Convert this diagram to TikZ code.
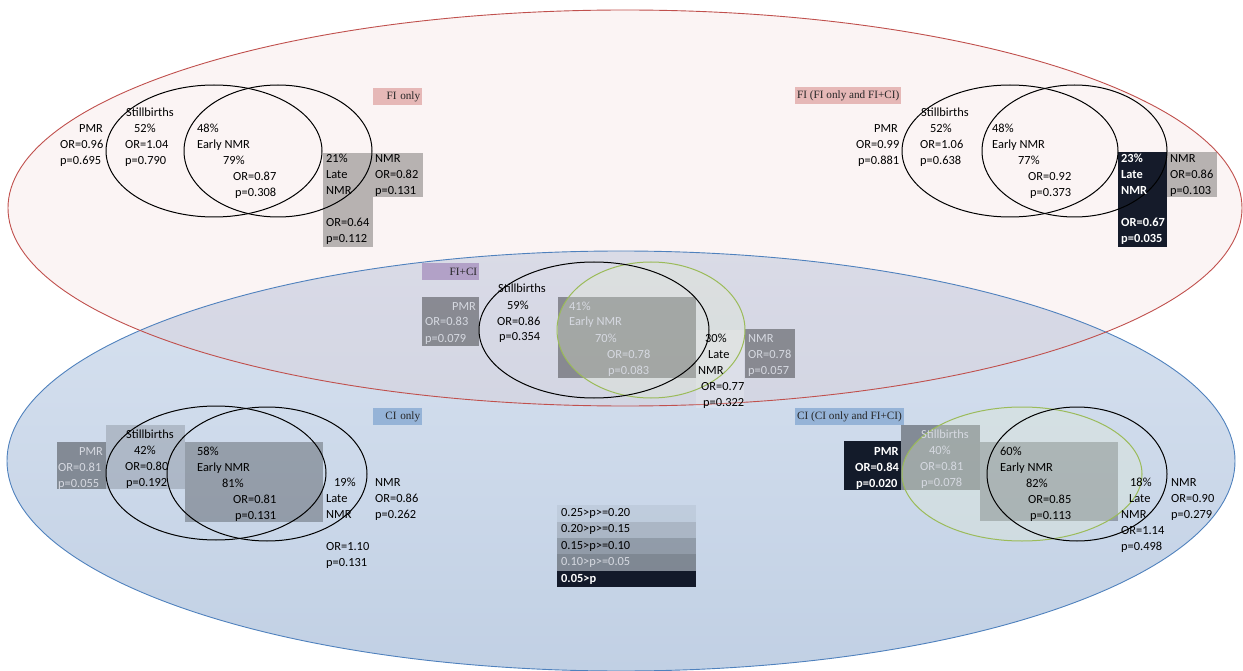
\documentclass[tikz,border=0pt]{standalone}
\usepackage{fontspec}
\setmainfont{Carlito}
\newfontfamily\tagfont{Liberation Serif}

\definecolor{filine}{RGB}{192,80,77}
\definecolor{fifill}{RGB}{230,185,184}
\definecolor{ciline}{RGB}{79,129,189}
\definecolor{citop}{RGB}{216,226,240}
\definecolor{cibot}{RGB}{193,208,228}
\definecolor{vgreen}{RGB}{155,187,89}
\definecolor{vgreenfill}{RGB}{226,236,210}
\definecolor{tagpink}{RGB}{230,184,183}
\definecolor{tagpurple}{RGB}{178,161,199}
\definecolor{tagblue}{RGB}{149,179,215}
\definecolor{lighttext}{RGB}{214,217,225}
\definecolor{navy}{RGB}{14,21,36}

% one text line per list entry x/text, 16pt apart
\newcommand{\vtxt}[4][]{%
  \foreach \xx/\lbl [count=\i] in {#4}
    \node[txt,#1] (#2\i) at (\xx,{#3+4+16*(\i-1)}) {\lbl};}

\begin{document}
\begin{tikzpicture}[x=1pt, y=-1pt,
  txt/.style={anchor=base west, inner sep=0pt, font=\fontsize{12.4}{15}\selectfont, text=black},
  lt/.style={text=lighttext},
  wb/.style={text=white, font=\fontsize{12.4}{15}\selectfont\bfseries},
  p1/.style={fill=black, fill opacity=0.05},
  p2/.style={fill=black, fill opacity=0.15},
  p3/.style={fill=black, fill opacity=0.27},
  p4/.style={fill=black, fill opacity=0.36},
  p5/.style={fill=navy, fill opacity=0.97},
  venn/.style={draw=black, line width=1pt},
  gvenn/.style={draw=vgreen, line width=1pt, fill=vgreenfill, fill opacity=0.3},
  tag/.style={anchor=north west, inner xsep=2pt, inner ysep=0pt, minimum height=16.5pt,
    font=\tagfont\fontsize{11.2}{13}\selectfont, text=black!85},
  key/.style={anchor=north west, inner xsep=4pt, inner ysep=0pt, minimum height=16.4pt,
    text width=131pt, align=left, text opacity=1, font=\fontsize{12.4}{15}\selectfont}]

\useasboundingbox (0,0) rectangle (1243,671);

% Outer sets
\shade[top color=citop, bottom color=cibot] (621,461) ellipse [x radius=614, y radius=210];
\fill[fifill, fill opacity=0.16] (625,208) ellipse [x radius=617, y radius=198];
\draw[ciline, line width=0.9pt] (621,461) ellipse [x radius=614, y radius=210];
\draw[filine, line width=0.9pt] (625,208) ellipse [x radius=617, y radius=198];

% Tags
\node[tag, fill=tagpink, text width=45pt, align=right] (tagA) at (373,88) {FI only};
\node[tag, fill=tagpink, minimum width=106pt] (tagB) at (795,87) {FI (FI only and FI+CI)};
\node[tag, fill=tagpurple, text width=53pt, align=right] (tagC) at (422,263) {FI+CI};
\node[tag, fill=tagblue, text width=45pt, align=right] (tagD) at (373,408) {CI only};
\node[tag, fill=tagblue, minimum width=107pt] (tagE) at (795,408) {CI (CI only and FI+CI)};

% Shaded boxes (p value classes)
\fill[p3] (323,153) rectangle (373,247);
\fill[p3] (373,153) rectangle (423,197);
\fill[p5] (1118,152) rectangle (1167,247);
\fill[p3] (1167,152) rectangle (1217,197);
\fill[p4] (422,297) rectangle (479,346);
\fill[p4] (558,297) rectangle (696,378);
\fill[white, fill opacity=0.2] (696,330) rectangle (744,408);
\fill[p4] (745,329) rectangle (795,378);
\fill[p4] (57,442) rectangle (106,489);
\fill[p2] (106,425) rectangle (185,489);
\fill[p3] (185,442) rectangle (323,522);
\fill[p5] (844,441) rectangle (901,490);
\fill[p4] (901,425) rectangle (980,490);
\fill[p3] (980,442) rectangle (1118,521);

% Venn circles
\draw[venn] (214,151) ellipse [x radius=108, y radius=66];
\draw[venn] (278,151) ellipse [x radius=94, y radius=66];
\draw[venn] (1010,151) ellipse [x radius=108, y radius=66];
\draw[venn] (1074.5,151) ellipse [x radius=92.5, y radius=66];
\filldraw[gvenn] (651,330) ellipse [x radius=94, y radius=68];
\draw[venn] (594,330) ellipse [x radius=115, y radius=68];
\draw[venn] (216,473) ellipse [x radius=110, y radius=67];
\draw[venn] (267,474) ellipse [x radius=100, y radius=67];
\filldraw[gvenn] (1022,474) ellipse [x radius=120, y radius=67];
\draw[venn] (1077,474) ellipse [x radius=90, y radius=67];

% FI only
\vtxt{pmrA}{129}{79/PMR,60/OR=0.96,60/p=0.695}
\vtxt{sbA}{113}{126/Stillbirths,134/52\%,125/OR=1.04,125/p=0.790}
\vtxt{enA}{129}{197/48\%,197/Early NMR,223/79\%,233/OR=0.87,235/p=0.308}
\vtxt{lnA}{159}{326/21\%,326/Late,326/NMR}
\vtxt{lorA}{223}{326/OR=0.64,326/p=0.112}
\vtxt{nmrA}{159}{375/NMR,375/OR=0.82,375/p=0.131}

% FI (FI only and FI+CI)
\vtxt{pmrB}{129}{874/PMR,856/OR=0.99,858/p=0.881}
\vtxt{sbB}{113}{921/Stillbirths,930/52\%,920/OR=1.06,920/p=0.638}
\vtxt{enB}{129}{992/48\%,992/Early NMR,1018/77\%,1028/OR=0.92,1030/p=0.373}
\vtxt[wb]{lnB}{159}{1121/23\%,1121/Late,1121/NMR}
\vtxt[wb]{lorB}{223}{1121/OR=0.67,1121/p=0.035}
\vtxt{nmrB}{159}{1170/NMR,1170/OR=0.86,1170/p=0.103}

% FI+CI
\vtxt[lt]{pmrC}{306}{452/PMR,425/OR=0.83,425/p=0.079}
\vtxt{sbC}{289}{498/Stillbirths,507/59\%,497/OR=0.86,499/p=0.354}
\vtxt[lt]{enC}{306}{569/41\%,569/Early NMR,595/70\%,607/OR=0.78,608/p=0.083}
\vtxt{lnC}{338}{705/30\%,708/Late,698/NMR,701/OR=0.77,703/p=0.322}
\vtxt[lt]{nmrC}{338}{748/NMR,748/OR=0.78,748/p=0.057}

% CI only
\vtxt[lt]{pmrD}{451}{79/PMR,58/OR=0.81,58/p=0.055}
\vtxt{sbD}{434}{126/Stillbirths,134/42\%,125/OR=0.80,126/p=0.192}
\vtxt{enD}{451}{197/58\%,197/Early NMR,222/81\%,233/OR=0.81,235/p=0.131}
\vtxt{lnD}{482}{334/19\%,326/Late,326/NMR}
\vtxt{lorD}{546}{326/OR=1.10,326/p=0.131}
\vtxt{nmrD}{482}{375/NMR,375/OR=0.86,375/p=0.262}

% CI (CI only and FI+CI)
\vtxt[wb]{pmrE}{451}{874/PMR,855/OR=0.84,856/p=0.020}
\vtxt[lt]{sbE}{434}{921/Stillbirths,929/40\%,920/OR=0.81,921/p=0.078}
\vtxt{enE}{451}{1000/60\%,1000/Early NMR,1026/82\%,1028/OR=0.85,1030/p=0.113}
\vtxt{lnE}{482}{1130/18\%,1129/Late,1121/NMR,1121/OR=1.14,1121/p=0.498}
\vtxt{nmrE}{482}{1171/NMR,1171/OR=0.90,1171/p=0.279}

% Key
\node[key, p1] (key1) at (557,505) {0.25>p>=0.20};
\node[key, p2] (key2) at (557,521.4) {0.20>p>=0.15};
\node[key, p3] (key3) at (557,537.8) {0.15>p>=0.10};
\node[key, p4, text=lighttext] (key4) at (557,554.2) {0.10>p>=0.05};
\node[key, p5, text=white, font=\fontsize{12.4}{15}\selectfont\bfseries] (key5) at (557,570.6) {0.05>p};

\end{tikzpicture}
\end{document}
